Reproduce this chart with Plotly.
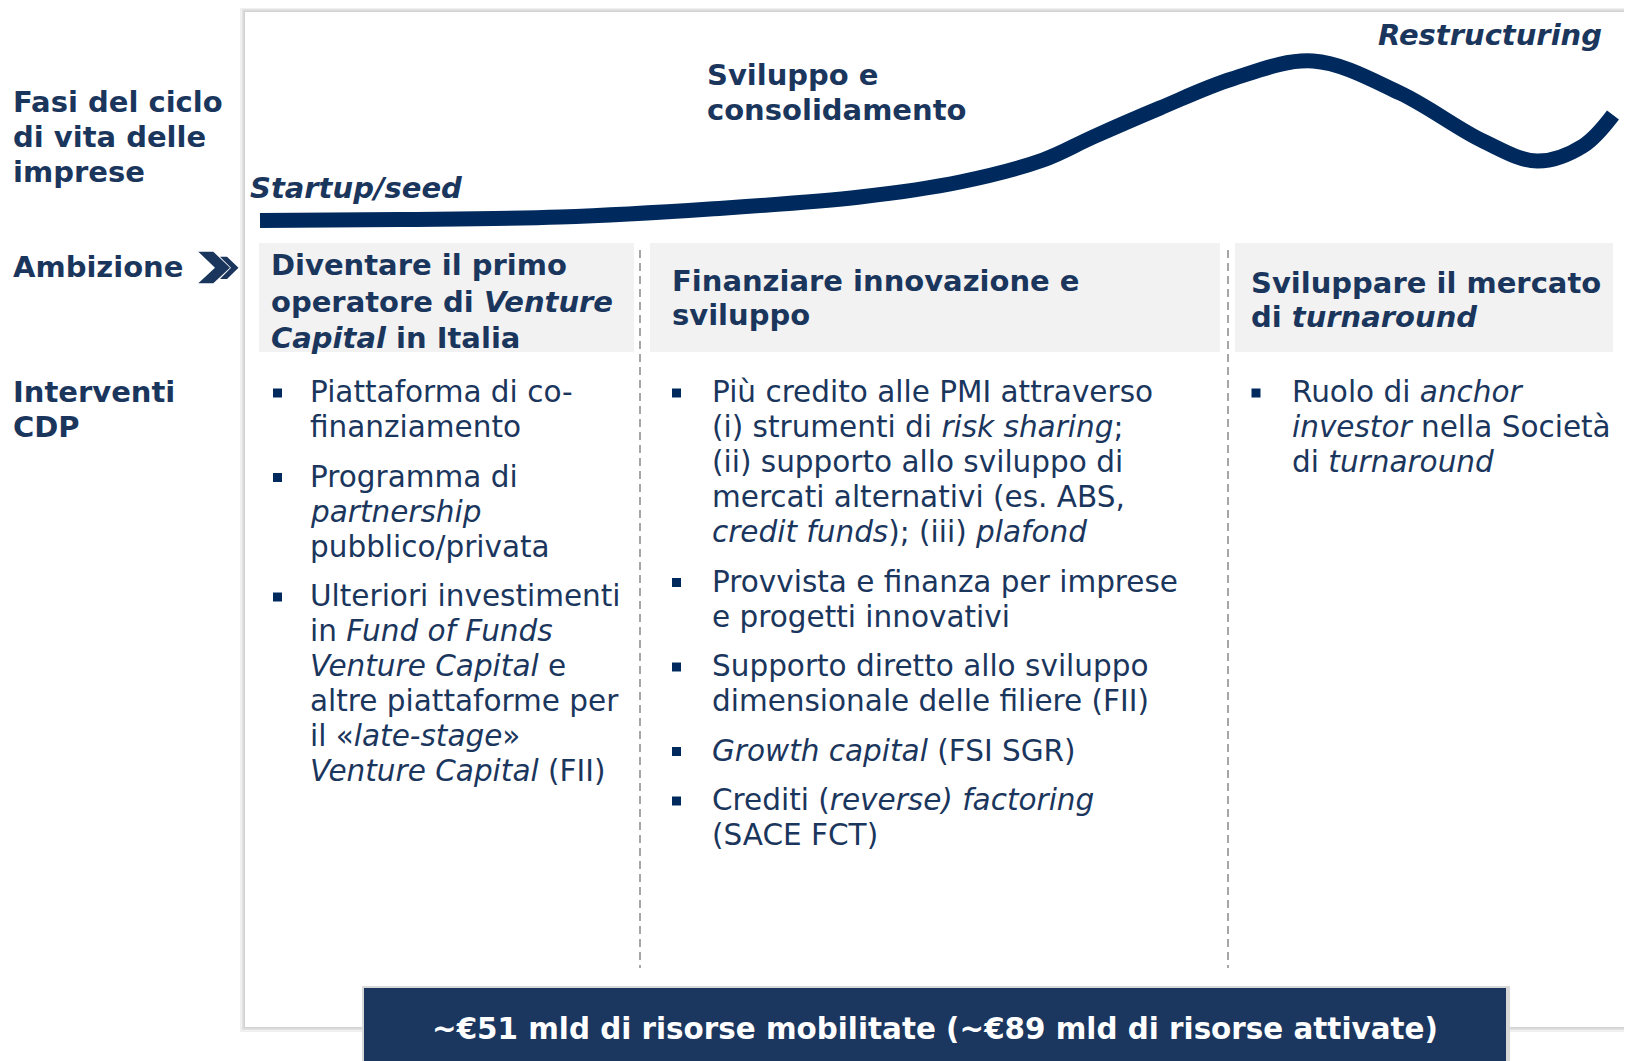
import plotly.graph_objects as go

W, H = 1632, 1061
OFF = 8  # default page body margin
NAVY = "#1b365d"
CURVE = "#002a5e"
FONT = "DejaVu Sans"
FS_BOLD = 29
FS_REG = 29.5

# ---------------- data ----------------
phase_labels = ["Fasi del ciclo", "di vita delle", "imprese"]
phase_baselines = [111.7, 146.7, 181.7]
ambition_label = "Ambizione"
ambition_baseline = 277.3
intervention_labels = ["Interventi", "CDP"]
intervention_baselines = [401.7, 436.7]

stage_startup = "Startup/seed"
stage_growth = ["Sviluppo e", "consolidamento"]
stage_restructuring = "Restructuring"

# life-cycle curve
curve_x = [260, 400, 560, 710, 860, 960, 1043, 1093, 1160, 1232, 1313, 1400, 1483, 1537, 1583, 1613]
curve_y = [220.5, 219.5, 217, 209, 197, 182, 160, 137, 108, 79, 61, 93, 141, 161, 146, 115]

ambition_headers = [
    ["Diventare il primo", "operatore di <i>Venture</i>", "<i>Capital</i> in Italia"],
    ["Finanziare innovazione e", "sviluppo"],
    ["Sviluppare il mercato", "di <i>turnaround</i>"],
]
header_baselines = [
    [275, 311.5, 347.7],
    [290.5, 325],
    [292.7, 326.7],
]

interventions = [
    [
        ["Piattaforma di co-", "finanziamento"],
        ["Programma di", "<i>partnership</i>", "pubblico/privata"],
        ["Ulteriori investimenti", "in <i>Fund of Funds</i>", "<i>Venture Capital</i> e",
         "altre piattaforme per", "il «<i>late-stage</i>»", "<i>Venture Capital</i> (FII)"],
    ],
    [
        ["Più credito alle PMI attraverso", "(i) strumenti di <i>risk sharing</i>;",
         "(ii) supporto allo sviluppo di", "mercati alternativi (es. ABS,",
         "<i>credit funds</i>); (iii) <i>plafond</i>"],
        ["Provvista e finanza per imprese", "e progetti innovativi"],
        ["Supporto diretto allo sviluppo", "dimensionale delle filiere (FII)"],
        ["<i>Growth capital</i> (FSI SGR)"],
        ["Crediti (<i>reverse) factoring</i>", "(SACE FCT)"],
    ],
    [
        ["Ruolo di <i>anchor</i>", "<i>investor</i> nella Società", "di <i>turnaround</i>"],
    ],
]

banner_text = "~€51 mld di risorse mobilitate (~€89 mld di risorse attivate)"

# ---------------- layout geometry ----------------
header_boxes = [(259, 634), (650, 1220), (1235, 1613)]
header_top, header_bottom = 243, 352
separators_x = [640, 1228]
text_x = [309, 711, 1291]
bullet_x = [277.5, 676.5, 1256]
first_baseline = 402.5
line_step = 35
bullet_step = 49.5

fig = go.Figure()
shapes = []
ann = []


def text(x, baseline, s, bold=False, italic=False, anchor="left", color=NAVY, size=None):
    if size is None:
        size = FS_BOLD if bold else FS_REG
    if italic:
        s = "<i>" + s + "</i>"
    if bold:
        s = "<b>" + s + "</b>"
    ann.append(dict(x=x, y=baseline - 0.345 * size, xref="x", yref="y", text=s,
                    showarrow=False, xanchor=anchor, yanchor="middle", borderpad=0,
                    font=dict(family=FONT, size=size, color=color)))


# panel with shadow
shapes.append(dict(type="rect", x0=240, y0=7, x1=1660, y1=1032, line_width=0,
                   fillcolor="#f0f0f0", layer="below"))
shapes.append(dict(type="rect", x0=242, y0=9, x1=1660, y1=1030, line_width=0,
                   fillcolor="#e2e2e2", layer="below"))
shapes.append(dict(type="rect", x0=243.5, y0=10.5, x1=1660, y1=1028.5, line_width=0,
                   fillcolor="#d2d2d2", layer="below"))
shapes.append(dict(type="rect", x0=245, y0=12, x1=1660, y1=1027, line_width=0,
                   fillcolor="white", layer="below"))

# header boxes
for (x0, x1) in header_boxes:
    shapes.append(dict(type="rect", x0=x0, y0=header_top, x1=x1, y1=header_bottom,
                       line_width=0, fillcolor="#f2f2f2", layer="below"))

# dashed separators
for sx in separators_x:
    shapes.append(dict(type="line", x0=sx, y0=250, x1=sx, y1=968,
                       line=dict(color="#a6a6a6", width=2, dash="8px,5px"), layer="below"))

# chevrons
shapes.append(dict(type="path", path="M 198.3 251.7 L 213.3 251.7 L 230 267.7 L 213.3 283.3 L 198.3 283.3 L 215 267.7 Z",
                   fillcolor=NAVY, line_width=0))
shapes.append(dict(type="path", path="M 220 256.7 L 227 256.7 L 238.5 267.7 L 227 279 L 220 279 L 231 267.7 Z",
                   fillcolor=NAVY, line_width=0))

# banner with shadow
shapes.append(dict(type="rect", x0=362, y0=986, x1=1510, y1=1075, line_width=0,
                   fillcolor="#d8d8d8"))
shapes.append(dict(type="rect", x0=364, y0=988, x1=1506, y1=1075, line_width=0,
                   fillcolor="#1b375f"))

# left labels
for s, b in zip(phase_labels, phase_baselines):
    text(12, b, s, bold=True)
text(12, ambition_baseline, ambition_label, bold=True)
for s, b in zip(intervention_labels, intervention_baselines):
    text(12, b, s, bold=True)

# stage labels
text(249, 198.3, stage_startup, bold=True, italic=True)
text(706, 85, stage_growth[0], bold=True)
text(706, 120, stage_growth[1], bold=True)
text(1603, 45, stage_restructuring, bold=True, italic=True, anchor="right")

# header texts
header_x = [270, 670.5, 1250]
for col, lines in enumerate(ambition_headers):
    for s, b in zip(lines, header_baselines[col]):
        text(header_x[col], b, s, bold=True)

# bullets
for col, items in enumerate(interventions):
    b = first_baseline
    for i, item in enumerate(items):
        if i > 0:
            b += bullet_step
        sq = 4.5
        cy = b - 9.5
        shapes.append(dict(type="rect", x0=bullet_x[col] - sq, x1=bullet_x[col] + sq,
                           y0=cy - sq, y1=cy + sq, fillcolor=CURVE, line_width=0))
        for j, line in enumerate(item):
            if j > 0:
                b += line_step
            text(text_x[col], b, line)

# banner text
text(935, 1039, banner_text, bold=True, anchor="center", color="white", size=29.4)

# curve
fig.add_trace(go.Scatter(x=curve_x, y=curve_y, mode="lines",
                         line=dict(color=CURVE, width=15, shape="spline", smoothing=1.0),
                         hoverinfo="skip"))

fig.update_layout(
    width=W - OFF, height=H - OFF, margin=dict(l=0, r=0, t=0, b=0),
    paper_bgcolor="white", plot_bgcolor="white", showlegend=False,
    xaxis=dict(range=[OFF, W], visible=False, fixedrange=True),
    yaxis=dict(range=[H, OFF], visible=False, fixedrange=True),
    shapes=shapes, annotations=ann,
)

fig.write_html("out.html")
